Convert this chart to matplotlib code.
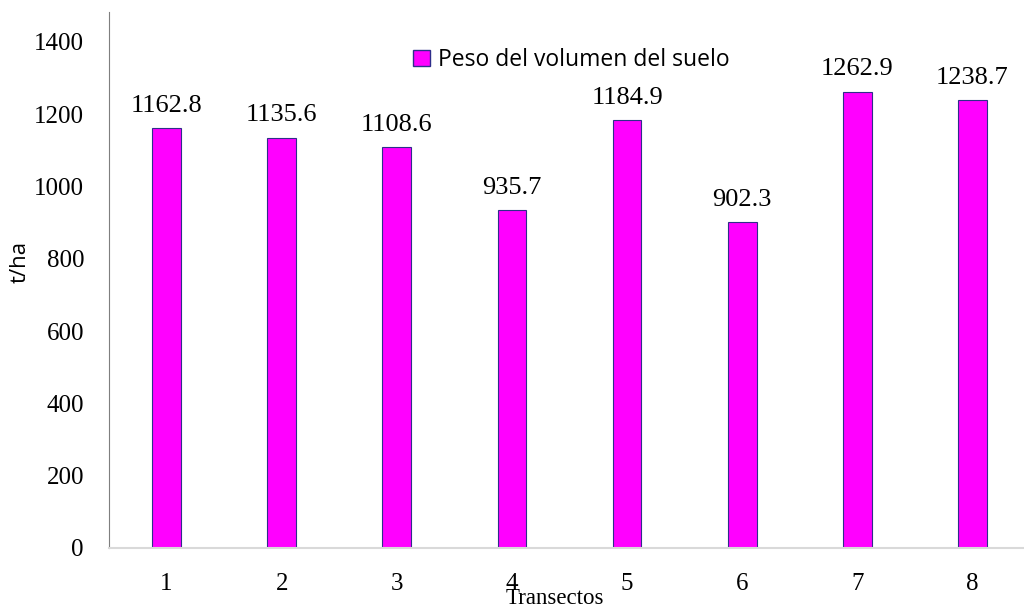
import matplotlib.pyplot as plt
from matplotlib.patches import Patch

# data
transectos = ['1', '2', '3', '4', '5', '6', '7', '8']
peso = [1162.8, 1135.6, 1108.6, 935.7, 1184.9, 902.3, 1262.9, 1238.7]
yticks = [0, 200, 400, 600, 800, 1000, 1200, 1400]

fig = plt.figure(figsize=(10.24, 6.08), dpi=100)
ax = fig.add_axes([109 / 1024, 60 / 608, 921 / 1024, 536 / 608])

x = list(range(1, len(peso) + 1))
ax.bar(x, peso, width=0.25, color='#FF00FF', edgecolor='#2E2E8A', linewidth=0.8)

for xi, v in zip(x, peso):
    ax.annotate(f'{v:.1f}', (xi, v), xytext=(0, 8), textcoords='offset points',
                ha='center', va='bottom', fontsize=19, family='Liberation Serif')

ax.set_xlim(0.5, 8.5)
ax.set_ylim(0, 1483)
ax.set_xticks(x)
ax.set_xticklabels(transectos)
ax.set_yticks(yticks)
for lab in ax.get_xticklabels() + ax.get_yticklabels():
    lab.set_family('Liberation Serif')
    lab.set_fontsize(18)
ax.tick_params(axis='both', length=0)
ax.tick_params(axis='x', pad=18)
ax.tick_params(axis='y', pad=18)

ax.spines['top'].set_visible(False)
ax.spines['right'].set_visible(False)
ax.spines['left'].set_color('#7f7f7f')
ax.spines['bottom'].set_color('#d9d9d9')
ax.spines['bottom'].set_linewidth(1.5)

fig.text(20 / 1024, 1 - 262 / 608, 't/ha', rotation=90, ha='center', va='center',
         fontsize=16, family='Open Sans')
fig.text(555 / 1024, 1 - 598 / 608, 'Transectos', ha='center', va='center',
         fontsize=16.5, family='Liberation Serif')

handle = Patch(facecolor='#FF00FF', edgecolor='#2E2E8A', label='Peso del volumen del suelo')
ax.legend(handles=[handle], loc='center left', bbox_to_anchor=(392 / 1024, 1 - 60 / 608),
          bbox_transform=fig.transFigure, frameon=False, handlelength=0.75, handleheight=0.75,
          handletextpad=0.35, prop={'family': 'Open Sans', 'size': 16.5})

fig.savefig('out.png')
